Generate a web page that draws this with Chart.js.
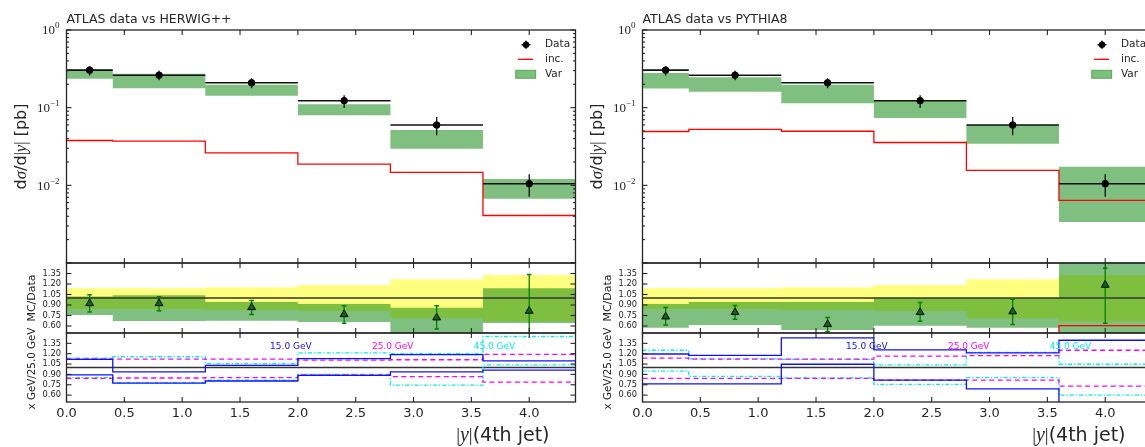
<!DOCTYPE html>
<html>
<head>
<meta charset="utf-8">
<script src="https://cdn.jsdelivr.net/npm/chart.js@4.4.1/dist/chart.umd.min.js"></script>
<style>
html,body{margin:0;padding:0;background:#fff;overflow:hidden;width:1145px;height:447px;}
#wrap{position:relative;width:1145px;height:447px;overflow:hidden;background:#fff;}
#wrap canvas{position:absolute;top:0;}
</style>
</head>
<body>
<div id="wrap"></div>
<script>
// ---------------- data ----------------
const binEdges   = [0, 0.4, 1.2, 2.0, 2.8, 3.6, 4.4];
const binCenters = [0.2, 0.8, 1.6, 2.4, 3.2, 4.0];
const xTickVals  = [0, 0.5, 1.0, 1.5, 2.0, 2.5, 3.0, 3.5, 4.0];
const ratioTickVals = [0.60, 0.75, 0.90, 1.05, 1.20, 1.35];
const logDecades = [0.001, 0.01, 0.1, 1];
const logMinorMult = [2, 3, 4, 5, 6, 7, 8, 9];
const panelTitles = ['ATLAS data vs HERWIG++', 'ATLAS data vs PYTHIA8'];
const legendLabels = ['Data', 'inc.', 'Var'];
const scaleLabels = ['15.0 GeV', '25.0 GeV', '45.0 GeV'];

// measured cross section (same in both panels)
const dataVal = [0.304, 0.262, 0.209, 0.123, 0.0597, 0.0105];
const dataUp  = [0.342, 0.298, 0.239, 0.144, 0.0758, 0.0139];
const dataDn  = [0.259, 0.225, 0.178, 0.099, 0.0443, 0.00713];

// HERWIG++
const hwInc   = [0.0378, 0.0371, 0.0262, 0.0187, 0.0147, 0.00409];
const hwVarHi = [0.310, 0.273, 0.198, 0.111, 0.0516, 0.0121];
const hwVarLo = [0.236, 0.178, 0.142, 0.0800, 0.0295, 0.00672];

// PYTHIA8
const pyInc   = [0.0493, 0.0524, 0.0497, 0.0356, 0.0156, 0.0064];
const pyVarHi = [0.280, 0.247, 0.198, 0.122, 0.0600, 0.0173];
const pyVarLo = [0.176, 0.160, 0.114, 0.0738, 0.0343, 0.00338];

// ratio panel: data uncertainty band (same in both)
const dataRelHi = [1.141, 1.141, 1.155, 1.184, 1.268, 1.330];
const dataRelLo = [0.842, 0.842, 0.833, 0.814, 0.712, 0.663];
const unity     = [1, 1, 1, 1, 1, 1];

// ratio panel HERWIG++
const hwRVarHi = [1.022, 1.041, 0.942, 0.913, 0.861, 1.141];
const hwRVarLo = [0.757, 0.671, 0.676, 0.657, 0.480, 0.643];
const hwRVal   = [0.923, 0.923, 0.866, 0.766, 0.719, 0.814];
const hwRUp    = [1.046, 1.018, 0.966, 0.890, 0.890, 1.336];
const hwRDn    = [0.799, 0.818, 0.766, 0.638, 0.557, 0.434];
const hwRInc   = [0.124, 0.142, 0.125, 0.152, 0.246, 0.390];

// ratio panel PYTHIA8
const pyRVarHi = [0.913, 0.942, 0.942, 1.000, 1.000, 1.650];
const pyRVarLo = [0.576, 0.614, 0.543, 0.605, 0.576, 0.320];
const pyRVal   = [0.733, 0.795, 0.624, 0.795, 0.806, 1.186];
const pyRUp    = [0.866, 0.894, 0.723, 0.937, 0.981, 1.424];
const pyRDn    = [0.614, 0.695, 0.520, 0.667, 0.620, 0.639];
const pyRInc   = [0.162, 0.200, 0.238, 0.289, 0.261, 0.605];

// scale variation panel HERWIG++
const hwB15Up = [1.117, 0.938, 1.032, 1.128, 1.186, 1.097];
const hwB15Dn = [0.893, 0.774, 0.804, 0.885, 0.938, 0.963];
const hwM25Up = [1.126, 1.121, 1.121, 1.107, 1.112, 1.191];
const hwM25Dn = [0.843, 0.848, 0.853, 0.893, 0.868, 0.789];
const hwC45Up = [1.136, 1.156, 1.057, 1.211, 1.200, 1.449];
const hwC45Dn = [0.853, 0.780, 0.815, 0.900, 0.744, 1.037];

// scale variation panel PYTHIA8
const pyB15Up = [1.196, 1.176, 1.430, 1.256, 1.211, 1.395];
const pyB15Dn = [0.764, 0.764, 1.047, 0.818, 0.689, 0.350];
const pyM25Up = [1.136, 1.121, 1.121, 1.166, 1.171, 1.250];
const pyM25Dn = [0.843, 0.843, 0.843, 0.818, 0.818, 0.729];
const pyC45Up = [1.250, 1.126, 1.117, 1.037, 1.220, 1.047];
const pyC45Dn = [0.948, 0.870, 0.848, 0.754, 0.853, 0.600];

// ---------------- layout & style ----------------
const SIDE_W = 580, H = 447;
const PLOT_L = 66.5, PLOT_R = 575.5;
const PANELS = { main: [30, 263], ratio: [263, 333], scale: [333, 402] };
const INK = '#262626';
const GREEN_A = 'rgba(0,128,0,0.5)';
const YELLOW_A = 'rgba(255,255,0,0.5)';
const BLUE = '#1010ff', MAGENTA = '#ff00ff', CYAN = '#00f0f0';
const sans = s => s + 'px "DejaVu Sans"';
const serif = s => s + 'px "Liberation Serif"';
const ital = s => 'italic ' + s + 'px "Liberation Serif"';

// ---------------- dataset builders ----------------
function stepPts(vals) {
  const p = vals.map((v, i) => ({ x: binEdges[i], y: v }));
  p.push({ x: binEdges[binEdges.length - 1], y: vals[vals.length - 1] });
  return p;
}
function step(vals, color, width, dash, order, label) {
  return { label: label || '', data: stepPts(vals), stepped: true, borderColor: color, borderWidth: width,
           borderDash: dash || [], pointRadius: 0, fill: false, order: order };
}
function band(lo, hi, color, order, label) {
  return [
    { label: '', data: stepPts(lo), stepped: true, borderWidth: 0, borderColor: 'rgba(0,0,0,0)',
      pointRadius: 0, fill: false, order: order },
    { label: label || '', data: stepPts(hi), stepped: true, borderWidth: 0, borderColor: 'rgba(0,0,0,0)',
      backgroundColor: color, pointRadius: 0, fill: '-1', order: order }
  ];
}
function vErrPts(lo, hi) {
  const p = [];
  binCenters.forEach((c, i) => { p.push({ x: c, y: lo[i] }, { x: c, y: hi[i] }, { x: c, y: null }); });
  return p;
}
function hErrPts(vals) {
  const p = [];
  vals.forEach((v, i) => { p.push({ x: binEdges[i], y: v }, { x: binEdges[i + 1], y: v }, { x: binEdges[i + 1], y: null }); });
  return p;
}
function errLine(pts, color, width, order) {
  return { label: '', data: pts, borderColor: color, borderWidth: width, pointRadius: 0,
           spanGaps: false, fill: false, order: order };
}
function markers(vals, style, r, fillC, edgeC, order, label) {
  return { label: label || '', data: binCenters.map((c, i) => ({ x: c, y: vals[i] })), showLine: false,
           pointStyle: style, pointRadius: r, pointBackgroundColor: fillC, pointBorderColor: edgeC,
           pointBorderWidth: 1, order: order };
}
function caps(lo, hi, color, order) {
  const p = [];
  binCenters.forEach((c, i) => { p.push({ x: c, y: lo[i] }, { x: c, y: hi[i] }); });
  return { label: '', data: p, showLine: false, pointStyle: 'line', pointRadius: 2.3,
           pointBorderColor: color, pointBackgroundColor: color, pointBorderWidth: 1.5, order: order };
}

// ---------------- text helpers ----------------
function seg(ctx, x1, y1, x2, y2) { ctx.beginPath(); ctx.moveTo(x1, y1); ctx.lineTo(x2, y2); ctx.stroke(); }
function drawRich(ctx, parts, x, y, align) {
  let w = 0;
  for (const p of parts) { ctx.font = p.f; w += ctx.measureText(p.t).width; }
  let cx = align === 'right' ? x - w : (align === 'center' ? x - w / 2 : x);
  ctx.textAlign = 'left';
  for (const p of parts) { ctx.font = p.f; ctx.fillText(p.t, cx, y + (p.dy || 0)); cx += ctx.measureText(p.t).width; }
}
function drawRot(ctx, parts, cx, cy) {
  ctx.save(); ctx.translate(cx, cy); ctx.rotate(-Math.PI / 2); ctx.textBaseline = 'middle';
  drawRich(ctx, parts, 0, 0, 'center'); ctx.restore();
}

// ---------------- decoration plugin (frame, ticks, labels, legend) ----------------
const decoPlugin = {
  id: 'deco',
  afterDatasetsDraw(chart, args, o) {
    const ctx = chart.ctx, a = chart.chartArea, xs = chart.scales.x, ys = chart.scales.y;
    ctx.save();
    ctx.strokeStyle = INK; ctx.fillStyle = INK; ctx.lineWidth = 1.1;
    for (const t of xs.ticks) {
      const px = xs.getPixelForValue(t.value);
      seg(ctx, px, a.top, px, a.top + 5); seg(ctx, px, a.bottom, px, a.bottom - 5);
    }
    for (const t of ys.ticks) {
      const py = ys.getPixelForValue(t.value);
      const L = t.major === false ? 2.6 : 5;
      seg(ctx, a.left, py, a.left + L, py); seg(ctx, a.right, py, a.right - L, py);
    }
    ctx.lineWidth = 1.3;
    ctx.strokeRect(a.left, a.top, a.right - a.left, a.bottom - a.top);

    ctx.fillStyle = INK; ctx.textBaseline = 'middle';
    if (o.kind === 'main') {
      for (const t of ys.ticks) {
        if (t.major === false || t.value < ys.min * 1.5) continue;
        const e = Math.round(Math.log10(t.value));
        const es = e < 0 ? '\u2212' + (-e) : String(e);
        const py = ys.getPixelForValue(t.value);
        drawRich(ctx, [{ t: '10', f: serif(13) }, { t: es, f: serif(9) }].map((p, i) => i ? Object.assign(p, { dy: -5 }) : p),
                 a.left - 7, py + 1, 'right');
      }
      ctx.textBaseline = 'alphabetic';
      drawRich(ctx, [{ t: o.title, f: sans(12.5) }], a.left, 23, 'left');
      drawRot(ctx, [
        { t: 'd', f: sans(16) }, { t: '\u03c3', f: ital(17) }, { t: '/d', f: sans(16) },
        { t: '|', f: serif(16) }, { t: 'y', f: ital(17) }, { t: '|', f: serif(16) }, { t: ' [pb]', f: sans(16) }
      ], 21.5, (a.top + a.bottom) / 2);
      // legend
      const mx = a.right - 49.5, tx = a.right - 30.5;
      const r1 = a.top + 14.7, r2 = a.top + 29.3, r3 = a.top + 44.3;
      ctx.strokeStyle = '#000'; ctx.fillStyle = '#000'; ctx.lineWidth = 1.5;
      seg(ctx, mx - 4.5, r1, mx + 4.5, r1); seg(ctx, mx, r1 - 4, mx, r1 + 4);
      ctx.beginPath(); ctx.arc(mx, r1, 3.2, 0, 2 * Math.PI); ctx.fill();
      ctx.strokeStyle = 'red'; ctx.lineWidth = 1.3; seg(ctx, a.right - 57.5, r2, a.right - 42.5, r2);
      ctx.fillStyle = GREEN_A; ctx.fillRect(a.right - 59.8, r3 - 4, 20, 8);
      ctx.strokeStyle = 'rgba(0,128,0,0.55)'; ctx.lineWidth = 1; ctx.strokeRect(a.right - 59.8, r3 - 4, 20, 8);
      ctx.fillStyle = INK; ctx.textBaseline = 'middle';
      [r1, r2, r3].forEach((r, i) => drawRich(ctx, [{ t: legendLabels[i], f: sans(10.5) }], tx, r, 'left'));
    } else {
      for (const t of ys.ticks) {
        const py = ys.getPixelForValue(t.value);
        drawRich(ctx, [{ t: t.value.toFixed(2), f: sans(8.3) }], a.left - 5.5, py, 'right');
      }
      if (o.kind === 'ratio') {
        drawRot(ctx, [{ t: 'MC/Data', f: sans(11) }], 32, (a.top + a.bottom) / 2);
      } else {
        drawRot(ctx, [{ t: 'x GeV/25.0 GeV', f: sans(10.3) }], 32, (a.top + a.bottom) / 2 + 1);
        for (const t of xs.ticks) {
          drawRich(ctx, [{ t: t.value.toFixed(1), f: sans(13) }], xs.getPixelForValue(t.value), a.bottom + 11.5, 'center');
        }
        drawRich(ctx, [{ t: '|', f: serif(19) }, { t: 'y', f: ital(20) }, { t: '|', f: serif(19) },
                       { t: '(4th jet)', f: sans(19) }], a.right - 26, 436, 'right');
        const cols = [BLUE, MAGENTA, CYAN], fr = [0.4, 0.6, 0.8];
        scaleLabels.forEach((s, i) => {
          ctx.fillStyle = cols[i];
          drawRich(ctx, [{ t: s, f: sans(9) }], a.left + fr[i] * (a.right - a.left), a.top + 13.5, 'left');
        });
      }
    }
    ctx.restore();
  }
};

// ---------------- chart factory ----------------
const wrap = document.getElementById('wrap');
function makeChart(offset, kind, datasets, yCfg, deco) {
  const c = document.createElement('canvas');
  c.width = SIDE_W; c.height = H;
  c.style.left = offset + 'px'; c.style.width = SIDE_W + 'px'; c.style.height = H + 'px';
  wrap.appendChild(c);
  const [top, bottom] = PANELS[kind];
  deco.kind = kind;
  return new Chart(c, {
    type: 'line',
    data: { datasets: datasets },
    options: {
      responsive: false, animation: false, devicePixelRatio: 1, events: [],
      layout: { autoPadding: false, padding: { left: PLOT_L, right: SIDE_W - PLOT_R, top: top, bottom: H - bottom } },
      plugins: { legend: { display: false }, tooltip: { enabled: false }, title: { display: false }, deco: deco },
      scales: {
        x: { type: 'linear', min: 0, max: 4.4, display: false, ticks: { display: false },
             afterBuildTicks: s => { s.ticks = xTickVals.map(v => ({ value: v })); } },
        y: Object.assign({ display: false, ticks: { display: false } }, yCfg)
      }
    },
    plugins: [decoPlugin]
  });
}

const logY = {
  type: 'logarithmic', min: 0.001, max: 1,
  afterBuildTicks: s => {
    const t = [];
    logDecades.forEach(d => {
      t.push({ value: d, major: true });
      if (d < 1) logMinorMult.forEach(m => t.push({ value: m * d, major: false }));
    });
    s.ticks = t;
  }
};
const linY = {
  type: 'linear', min: 0.5, max: 1.5,
  afterBuildTicks: s => { s.ticks = ratioTickVals.map(v => ({ value: v })); }
};

const sides = [
  { offset: 0, title: panelTitles[0], inc: hwInc, varHi: hwVarHi, varLo: hwVarLo,
    rVarHi: hwRVarHi, rVarLo: hwRVarLo, rVal: hwRVal, rUp: hwRUp, rDn: hwRDn, rInc: hwRInc,
    b15: [hwB15Up, hwB15Dn], m25: [hwM25Up, hwM25Dn], c45: [hwC45Up, hwC45Dn] },
  { offset: 576, title: panelTitles[1], inc: pyInc, varHi: pyVarHi, varLo: pyVarLo,
    rVarHi: pyRVarHi, rVarLo: pyRVarLo, rVal: pyRVal, rUp: pyRUp, rDn: pyRDn, rInc: pyRInc,
    b15: [pyB15Up, pyB15Dn], m25: [pyM25Up, pyM25Dn], c45: [pyC45Up, pyC45Dn] }
];

sides.forEach(sd => {
  makeChart(sd.offset, 'main', [
    ...band(sd.varLo, sd.varHi, GREEN_A, 10, legendLabels[2]),
    step(sd.inc, 'red', 1.3, [], 6, legendLabels[1]),
    errLine(hErrPts(dataVal), '#111', 1.6, 3),
    errLine(vErrPts(dataDn, dataUp), '#111', 1.3, 3),
    markers(dataVal, 'circle', 3.3, '#000', '#000', 1, legendLabels[0])
  ], logY, { title: sd.title });

  makeChart(sd.offset, 'ratio', [
    ...band(dataRelLo, dataRelHi, YELLOW_A, 12, 'Data uncertainty'),
    ...band(sd.rVarLo, sd.rVarHi, GREEN_A, 10, 'Var / Data'),
    step(unity, '#333', 1.5, [], 7, 'Data / Data'),
    step(sd.rInc, 'red', 1.3, [], 6, 'inc. / Data'),
    errLine(vErrPts(sd.rDn, sd.rUp), '#008000', 1.3, 3),
    caps(sd.rDn, sd.rUp, '#008000', 2),
    markers(sd.rVal, 'triangle', 4.5, '#0b6b0b', '#000', 1, 'MC/Data')
  ], linY, {});

  makeChart(sd.offset, 'scale', [
    step(unity, '#333', 1.5, [], 7, '25.0 GeV reference'),
    step(sd.c45[0], CYAN, 1.3, [4, 2, 1.3, 2], 5, scaleLabels[2]),
    step(sd.c45[1], CYAN, 1.3, [4, 2, 1.3, 2], 5, scaleLabels[2]),
    step(sd.m25[0], MAGENTA, 1.3, [5, 3.5], 4, scaleLabels[1]),
    step(sd.m25[1], MAGENTA, 1.3, [5, 3.5], 4, scaleLabels[1]),
    step(sd.b15[0], BLUE, 1.3, [], 3, scaleLabels[0]),
    step(sd.b15[1], BLUE, 1.3, [], 3, scaleLabels[0])
  ], linY, {});
});
</script>
</body>
</html>
